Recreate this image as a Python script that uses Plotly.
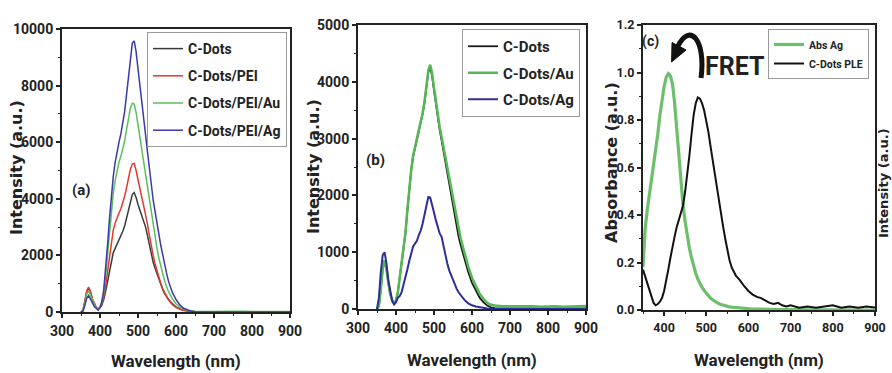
import plotly.graph_objects as go

# ---------------- data ----------------
wl_ab = [350, 355, 360, 365, 370, 375, 380, 385, 390, 395, 400, 405, 410, 415, 420, 425, 430, 435, 440, 445,
         450, 455, 460, 465, 470, 475, 480, 485, 490, 495, 500, 505, 510, 515, 520, 525, 530, 535, 540, 545,
         550, 555, 560, 565, 570, 575, 580, 590, 600, 610, 620, 630, 640, 650, 660, 680, 700, 720, 740, 760,
         780, 800, 820, 840, 860, 880, 900]

a_cdots = [0, 50, 350, 700, 850, 700, 450, 280, 160, 100, 150, 250, 450, 750, 1100, 1500, 1850, 2100, 2250, 2400,
           2500, 2650, 2850, 3050, 3350, 3650, 3950, 4150, 4220, 4050, 3800, 3600, 3400, 3200, 3000, 2700, 2350, 2000, 1750, 1550,
           1350, 1150, 950, 800, 650, 550, 450, 300, 180, 110, 60, 40, 20, 10, 0, 0, 0, 0, 0, 0,
           0, 0, 0, 0, 0, 0, 0]
a_pei = [0, 50, 380, 750, 880, 720, 470, 290, 170, 110, 170, 300, 550, 950, 1450, 2000, 2500, 2900, 3150, 3350,
         3500, 3650, 3850, 4100, 4400, 4750, 5050, 5230, 5250, 5000, 4650, 4350, 4050, 3750, 3450, 3100, 2700, 2300, 2000, 1700,
         1450, 1200, 1000, 820, 670, 540, 430, 270, 160, 100, 55, 30, 15, 5, 0, 0, 0, 0, 0, 0,
         0, 0, 0, 0, 0, 0, 0]
a_pei_au = [0, 40, 300, 620, 760, 620, 420, 260, 150, 100, 180, 350, 700, 1300, 2100, 2900, 3600, 4200, 4650, 5000,
            5300, 5500, 5750, 6050, 6450, 6850, 7200, 7380, 7350, 7050, 6600, 6150, 5700, 5300, 4900, 4450, 3950, 3450, 3000, 2600,
            2250, 1900, 1600, 1350, 1100, 900, 730, 470, 290, 170, 100, 60, 30, 20, 20, 25, 20, 30, 20, 25,
            30, 20, 25, 30, 20, 25, 20]
a_pei_ag = [0, 30, 220, 480, 580, 470, 320, 190, 110, 70, 160, 380, 800, 1500, 2400, 3300, 4100, 4800, 5300, 5700,
            6000, 6300, 6650, 7100, 7700, 8350, 9000, 9500, 9580, 9200, 8600, 7950, 7300, 6750, 6250, 5650, 5000, 4450, 3950, 3550,
            3200, 2750, 2350, 2000, 1680, 1380, 1100, 700, 440, 250, 130, 70, 30, 10, 0, 0, 0, 0, 0, 0,
            0, 0, 0, 0, 0, 0, 0]

b_cdots = [0, 50, 350, 700, 860, 700, 450, 260, 150, 100, 150, 300, 560, 790, 1040, 1340, 1740, 2140, 2440, 2680,
           2830, 2930, 3080, 3230, 3430, 3630, 3880, 4170, 4250, 4100, 3850, 3600, 3350, 3150, 2970, 2780, 2570, 2360, 2180, 2010,
           1830, 1630, 1430, 1260, 1130, 1000, 870, 650, 460, 320, 200, 120, 60, 30, 15, 10, 10, 5, 10, 5,
           10, 5, 10, 5, 10, 5, 10]
b_au = [0, 50, 350, 700, 860, 700, 450, 260, 150, 100, 150, 300, 570, 800, 1050, 1350, 1750, 2150, 2450, 2700,
        2850, 2950, 3100, 3250, 3450, 3650, 3900, 4200, 4300, 4150, 3900, 3650, 3400, 3200, 3030, 2850, 2650, 2450, 2280, 2120,
        1950, 1750, 1550, 1380, 1250, 1120, 980, 750, 550, 400, 270, 180, 110, 75, 60, 50, 50, 45, 55, 50,
        40, 45, 50, 40, 45, 50, 55]
b_ag = [0, 200, 650, 950, 1000, 800, 500, 280, 140, 80, 120, 200, 230, 300, 420, 550, 700, 850, 980, 1100,
        1150, 1200, 1300, 1380, 1500, 1650, 1850, 1970, 1960, 1850, 1700, 1560, 1420, 1330, 1270, 1100, 950, 800, 680, 590,
        500, 420, 350, 290, 240, 200, 160, 100, 65, 45, 30, 20, 10, 5, 0, 0, 0, 0, 0, 0,
        0, 0, 0, 0, 0, 0, 0]

wl_c = [350, 355, 360, 365, 370, 375, 380, 385, 390, 395, 400, 405, 410, 415, 420, 425, 430, 435, 440, 445,
        450, 455, 460, 465, 470, 475, 480, 485, 490, 495, 500, 505, 510, 515, 520, 525, 530, 535, 540, 545,
        550, 555, 560, 565, 570, 575, 580, 590, 600, 610, 620, 630, 640, 650, 660, 670, 680, 690, 700, 720,
        740, 760, 780, 800, 820, 840, 860, 880, 900]
c_abs_ag = [0.18, 0.34, 0.42, 0.48, 0.54, 0.60, 0.67, 0.74, 0.82, 0.89, 0.94, 0.98, 0.995, 0.985, 0.95, 0.87, 0.76, 0.64, 0.53, 0.44,
            0.37, 0.31, 0.26, 0.22, 0.18, 0.155, 0.13, 0.11, 0.095, 0.082, 0.07, 0.06, 0.05, 0.043, 0.036, 0.031, 0.026, 0.023, 0.02, 0.017,
            0.015, 0.013, 0.012, 0.011, 0.01, 0.009, 0.008, 0.006, 0.005, 0.004, 0.004, 0.003, 0.003, 0.003, 0.002, 0.002, 0.002, 0.002, 0.002, 0.001,
            0.001, 0.001, 0.001, 0.001, 0.001, 0.001, 0.001, 0.0, 0.0]
c_ple = [0.17, 0.14, 0.11, 0.08, 0.05, 0.03, 0.02, 0.025, 0.035, 0.05, 0.08, 0.12, 0.17, 0.22, 0.27, 0.31, 0.35, 0.38, 0.41, 0.44,
         0.50, 0.57, 0.65, 0.74, 0.82, 0.87, 0.895, 0.89, 0.87, 0.84, 0.80, 0.75, 0.69, 0.63, 0.57, 0.52, 0.47, 0.41, 0.35, 0.30,
         0.25, 0.21, 0.18, 0.16, 0.145, 0.135, 0.125, 0.10, 0.08, 0.065, 0.055, 0.05, 0.04, 0.03, 0.025, 0.03, 0.02, 0.015, 0.02, 0.01,
         0.015, 0.01, 0.015, 0.02, 0.01, 0.015, 0.01, 0.015, 0.01]

# ---------------- styling ----------------
W, H = 892, 373
NARROW = "Roboto, Liberation Sans, sans-serif"
WIDE = "DejaVu Sans, Liberation Sans, sans-serif"
AX = "#222222"


def px(x):
    return x / W


def py(y):
    return (H - y) / H


fig = go.Figure()

def add(x, y, name, color, width, xa, ya, legend):
    fig.add_trace(go.Scatter(x=x, y=y, name=name, mode="lines", xaxis=xa, yaxis=ya,
                             line=dict(color=color, width=width),
                             legend=legend, legendgroup=name + legend))

add(wl_ab, a_cdots, "C-Dots", "#3a3a3a", 1.5, "x", "y", "legend")
add(wl_ab, a_pei, "C-Dots/PEI", "#e03a30", 1.5, "x", "y", "legend")
add(wl_ab, a_pei_au, "C-Dots/PEI/Au", "#5cbf5c", 1.5, "x", "y", "legend")
add(wl_ab, a_pei_ag, "C-Dots/PEI/Ag", "#3a3aa8", 1.5, "x", "y", "legend")

add(wl_ab, b_cdots, "C-Dots", "#1a1a1a", 1.8, "x2", "y2", "legend2")
add(wl_ab, b_au, "C-Dots/Au", "#55b855", 2.5, "x2", "y2", "legend2")
add(wl_ab, b_ag, "C-Dots/Ag", "#2e2e9a", 2, "x2", "y2", "legend2")

add(wl_c, c_abs_ag, "Abs Ag", "#6cc06c", 3.2, "x3", "y3", "legend3")
add(wl_c, c_ple, "C-Dots PLE", "#111111", 2, "x3", "y3", "legend3")

tickfont = dict(family=NARROW, size=14, color="#222", weight="bold")
tickfont_c = dict(family=NARROW, size=12.5, color="#222", weight="bold")


def axis(domain, rng, dtick, minor, tf, anchor, fmt, standoff):
    return dict(domain=domain, range=rng, dtick=dtick, tick0=0, anchor=anchor,
                showgrid=False, zeroline=False, showline=True, linecolor=AX, linewidth=2,
                mirror=True, ticks="outside", ticklen=4, tickwidth=1.5, tickcolor=AX,
                minor=dict(ticks="outside", ticklen=2, dtick=minor, tickcolor=AX, tickwidth=1),
                tickfont=tf, automargin=False, tickformat=fmt, ticklabelstandoff=standoff)

dom_ax = [px(62), px(290)]
dom_ay = [py(312), py(29)]
dom_bx = [px(358), px(586)]
dom_by = [py(309), py(25)]
dom_cx = [px(643), px(875)]
dom_cy = [py(310), py(25)]


def legend(x, y, size, gap):
    return dict(x=px(x), y=py(y), bgcolor="white", bordercolor="#9a9a9a", borderwidth=1,
                xanchor="right", yanchor="top", tracegroupgap=gap, itemwidth=30,
                font=dict(family=NARROW, size=size, color="#222", weight="bold"))

fig.update_layout(
    width=W, height=H, margin=dict(l=0, r=0, t=0, b=0),
    paper_bgcolor="white", plot_bgcolor="white", showlegend=True,
    xaxis=axis(dom_ax, [300, 900], 100, 50, tickfont, "y", "d", 1),
    yaxis=axis(dom_ay, [0, 10000], 2000, 1000, tickfont, "x", "d", 0),
    xaxis2=axis(dom_bx, [300, 900], 100, 50, tickfont, "y2", "d", 1),
    yaxis2=axis(dom_by, [0, 5000], 1000, 500, tickfont, "x2", "d", 0),
    xaxis3=axis(dom_cx, [350, 900], 100, 50, tickfont_c, "y3", "d", 1),
    yaxis3=axis(dom_cy, [0, 1.2], 0.2, 0.1, tickfont_c, "x3", ".1f", 0),
    legend=legend(287, 32, 14, 6),
    legend2=legend(580, 29, 15, 4),
    legend3=legend(869, 29, 10.5, 0),
)

ann = []

def text(x, y, s, size, family=NARROW, angle=0, xanchor="center"):
    ann.append(dict(x=px(x), y=py(y), xref="paper", yref="paper", text=s, showarrow=False,
                    xanchor=xanchor, yanchor="middle", textangle=angle,
                    font=dict(family=family, size=size, color="#222", weight="bold")))

text(176, 361, "Wavelength (nm)", 17)
text(472, 360, "Wavelength (nm)", 17)
text(759, 360, "Wavelength (nm)", 17)
text(16, 168, "Intensity (a.u.)", 16, WIDE, -90)
text(313, 167, "Intensity (a.u.)", 16, WIDE, -90)
text(612, 163, "Absorbance (a.u.)", 16, WIDE, -90)
text(883, 183, "Intensity (a.u.)", 13, WIDE, -90)
text(81, 190, "(a)", 15)
text(375, 160, "(b)", 15)
text(650, 42, "(c)", 14)
text(703, 66, "FRET", 25, NARROW, 0, "left")
fig.update_layout(annotations=ann)

# curved FRET arrow (decoration, paper coordinates)
p = lambda a, b: f"{px(a):.4f},{py(b):.4f}"
fig.add_shape(type="path", xref="paper", yref="paper",
              path=f"M {p(701, 78)} C {p(706, 40)} {p(690, 22)} {p(678, 46)}",
              line=dict(color="#111", width=5))
fig.add_shape(type="path", xref="paper", yref="paper",
              path=f"M {p(671.6, 62)} L {p(686, 50)} L {p(672, 42.5)} Z",
              line=dict(color="#111", width=1), fillcolor="#111")

fig.write_html("out.html")
